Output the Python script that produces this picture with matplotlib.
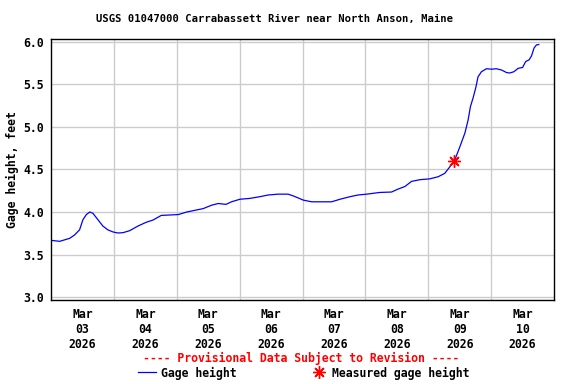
import matplotlib
matplotlib.use("Agg")
import matplotlib.pyplot as plt
from matplotlib.ticker import FixedLocator, NullFormatter, FixedFormatter

# Hours since Mar 03 2026 00:00
hours = [0, 3.3, 7.1, 9.0, 10.9, 12.2, 13.5, 14.8, 16.0, 17.9, 19.8, 21.7, 23.7, 25.6,
         27.5, 30.0, 33.2, 36.4, 38.9, 42.1, 45.4, 48.6, 51.8, 54.9, 58.1, 61.3, 63.8,
         66.8, 68.9, 72.1, 75.9, 79.7, 82.9, 86.7, 90.5, 92.4, 94.4, 96.3, 99.5, 103.3,
         107.1, 110.3, 114.1, 117.2, 120.5, 125.5, 130.0, 132.5, 135.1, 137.6, 140.8,
         144.6, 147.8, 150.3, 152.2, 154.1, 156.1, 158.0, 159.2, 160.1, 161.1, 162.2,
         163.0, 164.3, 166.2, 168.2, 170.0, 172.0, 173.9, 175.1, 176.7, 178.3, 180.0,
         181.2, 182.5, 183.4, 184.4, 185.3, 186.2]
gage = [3.667, 3.655, 3.69, 3.73, 3.79, 3.91, 3.97, 4.0, 3.985, 3.91, 3.835, 3.79, 3.765,
        3.753, 3.757, 3.78, 3.835, 3.88, 3.905, 3.96, 3.965, 3.97, 4.0, 4.02, 4.04, 4.08,
        4.10, 4.09, 4.12, 4.15, 4.16, 4.18, 4.20, 4.21, 4.21, 4.19, 4.165, 4.14, 4.12,
        4.12, 4.12, 4.15, 4.18, 4.20, 4.21, 4.23, 4.235, 4.27, 4.30, 4.36, 4.38, 4.39,
        4.415, 4.455, 4.53, 4.61, 4.77, 4.93, 5.08, 5.24, 5.34, 5.47, 5.59, 5.65, 5.685,
        5.68, 5.685, 5.67, 5.64, 5.635, 5.65, 5.69, 5.70, 5.77, 5.79, 5.835, 5.93, 5.965,
        5.97]

meas_hours = [153.9]
meas_vals = [4.6]

day_labels = ["Mar\n03\n2026", "Mar\n04\n2026", "Mar\n05\n2026", "Mar\n06\n2026",
              "Mar\n07\n2026", "Mar\n08\n2026", "Mar\n09\n2026", "Mar\n10\n2026"]
y_ticks = [3.0, 3.5, 4.0, 4.5, 5.0, 5.5, 6.0]

FONT = "DejaVu Sans Mono"
FS = 8.3
FS_TITLE = 7.6

fig = plt.figure(figsize=(5.76, 3.84), dpi=100)
ax = fig.add_axes([51 / 576, 1 - 300 / 384, (554 - 51) / 576, (300 - 39) / 384])

ax.plot(hours, gage, color="#0000ff", lw=0.9, solid_joinstyle="miter")
ax.plot(meas_hours, meas_vals, linestyle="none", marker=(8, 2, 0), ms=9,
        mec="#ff0000", mew=1.0, color="#ff0000")

ax.set_xlim(0, 192)
ax.set_ylim(2.965, 6.035)

ax.xaxis.set_major_locator(FixedLocator([24 * i for i in range(1, 8)]))
ax.xaxis.set_major_formatter(NullFormatter())
ax.xaxis.set_minor_locator(FixedLocator([12 + 24 * i for i in range(8)]))
ax.xaxis.set_minor_formatter(FixedFormatter(day_labels))
ax.set_yticks(y_ticks)
ax.set_yticklabels([f"{v:.1f}" for v in y_ticks])

ax.tick_params(axis="both", which="both", length=0)
ax.tick_params(axis="x", which="minor", pad=6)
ax.tick_params(axis="y", pad=5)
for lab in ax.get_xticklabels(minor=True) + ax.get_yticklabels():
    lab.set_fontfamily(FONT)
    lab.set_fontweight("bold")
    lab.set_fontsize(FS)
for lab in ax.get_xticklabels(minor=True):
    lab.set_linespacing(1.2)

ax.grid(True, which="major", color="#cccccc", lw=1.0)
ax.set_axisbelow(True)
for sp in ax.spines.values():
    sp.set_color("black")
    sp.set_linewidth(1.0)

ax.set_ylabel("Gage height, feet", fontfamily=FONT, fontweight="bold", fontsize=FS,
              va="center")
ax.yaxis.set_label_coords((12 - 51) / 503, 0.5)

fig.text(0.5 * (97 + 452) / 576, 1 - 19 / 384,
         "USGS 01047000 Carrabassett River near North Anson, Maine",
         ha="center", va="center", fontfamily=FONT, fontweight="bold", fontsize=FS_TITLE)
fig.text(301 / 576, 1 - 358 / 384, "---- Provisional Data Subject to Revision ----",
         ha="center", va="center", color="#ff0000", fontfamily=FONT,
         fontweight="bold", fontsize=FS)

# legend
fig.lines.append(plt.Line2D([138 / 576, 156 / 576], [1 - 372 / 384, 1 - 372 / 384],
                            color="#0000ff", lw=0.9, transform=fig.transFigure))
fig.text(161 / 576, 1 - 373 / 384, "Gage height", ha="left", va="center",
         fontfamily=FONT, fontweight="bold", fontsize=FS)
fig.lines.append(plt.Line2D([319 / 576], [1 - 372 / 384], linestyle="none",
                            marker=(8, 2, 0), ms=9, mec="#ff0000", mew=1.0,
                            transform=fig.transFigure))
fig.text(332 / 576, 1 - 373 / 384, "Measured gage height", ha="left", va="center",
         fontfamily=FONT, fontweight="bold", fontsize=FS)

fig.savefig("out.png", dpi=100)
